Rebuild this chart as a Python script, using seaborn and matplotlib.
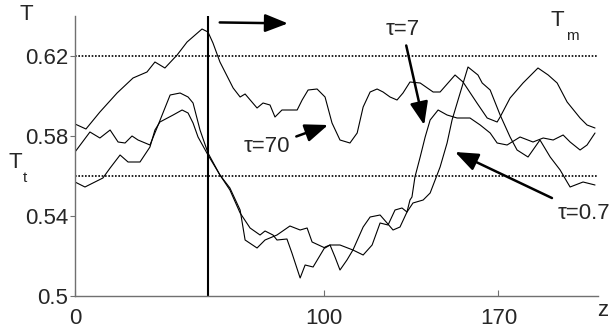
import matplotlib
matplotlib.use("Agg")
import matplotlib.pyplot as plt
import seaborn as sns
import pandas as pd

# ---- data: temperature profiles T(z) for three relaxation times ----
z_tau70 = [0, 4.4, 10.0, 16.9, 23.3, 28.9, 32.1, 36.1, 41.0, 45.0,
           51.0, 53.4, 55.4, 58.2, 63.5, 66.3, 68.3, 73.1, 75.5, 78.3,
           80.3, 83.1, 89.2, 91.2, 93.6, 97.2, 100.4, 103.2, 106.4, 110.4,
           113.3, 115.7, 118.5, 121.3, 123.7, 126.5, 129.3, 131.7, 134.5, 138.6,
           143.8, 146.6, 152.6, 155.8, 161.4, 165.5, 169.5, 170.7, 174.7, 179.9,
           185.9, 190.0, 193.6, 197.6, 202.8, 205.6, 208.8]
T_tau70 = [0.586, 0.5835, 0.592, 0.6015, 0.609, 0.612, 0.617, 0.614, 0.6205, 0.627,
           0.6335, 0.632, 0.6265, 0.617, 0.604, 0.5995, 0.601, 0.594, 0.5965, 0.5955,
           0.5895, 0.593, 0.593, 0.598, 0.603, 0.6035, 0.5995, 0.5865, 0.578, 0.5765,
           0.5815, 0.5945, 0.602, 0.6035, 0.602, 0.5995, 0.598, 0.6015, 0.607, 0.6065,
           0.602, 0.602, 0.6105, 0.607, 0.5965, 0.589, 0.587, 0.5895, 0.599, 0.6065,
           0.614, 0.6105, 0.6065, 0.597, 0.589, 0.5855, 0.584]

z_tau7 = [0, 6.0, 10.0, 14.1, 17.3, 20.1, 22.9, 25.3, 30.1, 32.9,
          38.2, 42.2, 45.4, 47.4, 50.2, 53.4, 58.2, 62.2, 66.3, 70.3,
          74.3, 76.3, 79.5, 81.1, 85.1, 87.1, 90.4, 92.4, 95.6, 100.4,
          102.4, 104.4, 106.4, 109.2, 111.6, 115.7, 118.5, 122.5, 125.3, 127.7,
          130.5, 133.3, 134.5, 135.3, 136.5, 138.6, 140.6, 142.6, 145.8, 149.4,
          153.4, 155.8, 158.6, 162.7, 166.7, 169.5, 173.5, 178.7, 183.9, 188.0,
          192.0, 196.0, 198.8, 202.8, 205.6, 208.8]
T_tau7 = [0.572, 0.582, 0.579, 0.583, 0.577, 0.5765, 0.580, 0.578, 0.5755, 0.584,
          0.6005, 0.6015, 0.5995, 0.5965, 0.583, 0.5715, 0.5605, 0.553, 0.5415, 0.534,
          0.5305, 0.5325, 0.5305, 0.528, 0.5285, 0.5215, 0.509, 0.5155, 0.5145, 0.5245,
          0.5255, 0.5195, 0.513, 0.518, 0.523, 0.5345, 0.5395, 0.5405, 0.5365, 0.533,
          0.5345, 0.542, 0.548, 0.5495, 0.5595, 0.5695, 0.5795, 0.588, 0.593, 0.5905,
          0.589, 0.589, 0.589, 0.5855, 0.5815, 0.5765, 0.5755, 0.5795, 0.577, 0.579,
          0.578, 0.5805, 0.577, 0.573, 0.5755, 0.5815]

z_tau07 = [0, 4.0, 11.2, 14.1, 18.1, 21.3, 26.1, 30.1, 32.1, 34.1,
           39.4, 43.0, 45.4, 47.4, 49.4, 53.4, 58.2, 62.2, 66.3, 68.3,
           73.1, 76.3, 81.1, 86.3, 90.4, 93.2, 95.2, 100.4, 102.4, 106.4,
           111.6, 115.7, 119.3, 122.5, 125.7, 128.5, 131.3, 133.3, 135.7, 139.8,
           142.6, 144.6, 146.6, 149.4, 151.4, 153.8, 157.8, 161.8, 163.5, 166.7,
           170.7, 174.7, 177.5, 181.9, 186.7, 190.8, 194.8, 197.6, 198.8, 204.0,
           208.8]
T_tau07 = [0.557, 0.5545, 0.559, 0.564, 0.5705, 0.567, 0.567, 0.5745, 0.583, 0.587,
           0.5905, 0.593, 0.5915, 0.5865, 0.5795, 0.5705, 0.5605, 0.554, 0.543, 0.528,
           0.524, 0.528, 0.5305, 0.535, 0.533, 0.534, 0.527, 0.524, 0.5255, 0.5255,
           0.523, 0.5205, 0.5255, 0.5365, 0.5355, 0.543, 0.544, 0.542, 0.5465, 0.548,
           0.5515, 0.558, 0.5645, 0.5765, 0.588, 0.598, 0.6145, 0.6105, 0.6065, 0.603,
           0.5905, 0.5795, 0.573, 0.5695, 0.578, 0.5695, 0.563, 0.557, 0.5545, 0.557,
           0.5555]

T_melt = 0.62        # T_m level
T_trans = 0.56       # T_t level
z_front = 53.4       # front position

x_ticks = [0, 100, 170]
y_ticks = [0.5, 0.54, 0.58, 0.62]
y_tick_labels = ["0.5", "0.54", "0.58", "0.62"]

# ---- styling ----
sns.set_theme(style="white")
plt.rcParams["font.family"] = ["Liberation Sans", "DejaVu Sans"]

W, H = 609, 329
fig = plt.figure(figsize=(W / 100, H / 100), dpi=100)
ax = fig.add_axes([75 / W, 1 - 296 / H, (598 - 75) / W, (296 - 16) / H])

for z, T in [(z_tau70, T_tau70), (z_tau7, T_tau7), (z_tau07, T_tau07)]:
    df = pd.DataFrame({"z": z, "T": T})
    sns.lineplot(data=df, x="z", y="T", ax=ax, color="black", lw=0.8,
                 estimator=None, sort=False)

ax.axhline(T_melt, color="black", ls=(0, (1, 1)), lw=1.2)
ax.axhline(T_trans, color="black", ls=(0, (1, 1)), lw=1.2)
ax.axvline(z_front, color="black", lw=1.5)

ax.set_xlim(0, 210)
ax.set_ylim(0.5, 0.64)
ax.set_xticks(x_ticks)
ax.set_xticklabels([str(v) for v in x_ticks])
ax.set_yticks(y_ticks)
ax.set_yticklabels(y_tick_labels)
ax.set_xlabel("")
ax.set_ylabel("")

for s in ["top", "right"]:
    ax.spines[s].set_visible(False)
for s in ["left", "bottom"]:
    ax.spines[s].set_color("#707070")
    ax.spines[s].set_linewidth(1.0)

ax.tick_params(axis="x", direction="in", length=4, width=0.8, color="#707070",
               pad=9, labelsize=16, bottom=True)
ax.tick_params(axis="y", direction="out", length=3.5, width=0.8, color="#707070",
               pad=1.5, labelsize=16, left=True)

# axis symbols
fig.text(26 / W, 1 - 14 / H, "T", ha="center", va="center", fontsize=16)
fig.text(15 / W, 1 - 163 / H, "T", ha="center", va="center", fontsize=16)
fig.text(25 / W, 1 - 178 / H, "t", ha="center", va="center", fontsize=11)
fig.text(557 / W, 1 - 21 / H, "T", ha="center", va="center", fontsize=16)
fig.text(572 / W, 1 - 36 / H, "m", ha="center", va="center", fontsize=11)
fig.text(603 / W, 1 - 310 / H, "z", ha="center", va="center", fontsize=16)

arrow = dict(arrowstyle="-|>,head_length=14,head_width=5.5", mutation_scale=1,
             color="black", lw=1.8, shrinkA=2, shrinkB=0)

# direction of front motion
ax.annotate("", xy=(85.5, 0.6363), xytext=(57.0, 0.6368), arrowprops=arrow)

# series labels
ax.annotate("τ=70", xy=(101.6, 0.5855), xytext=(86.5, 0.5745),
            ha="right", va="center", fontsize=16, arrowprops=arrow)
ax.annotate("τ=7", xy=(140.2, 0.5855), xytext=(131.5, 0.6335),
            ha="center", va="center", fontsize=16, arrowprops=arrow)
ax.annotate("τ=0.7", xy=(152.6, 0.572), xytext=(193.6, 0.5415),
            ha="left", va="center", fontsize=16, arrowprops=arrow)

fig.savefig("out.png", dpi=100)
